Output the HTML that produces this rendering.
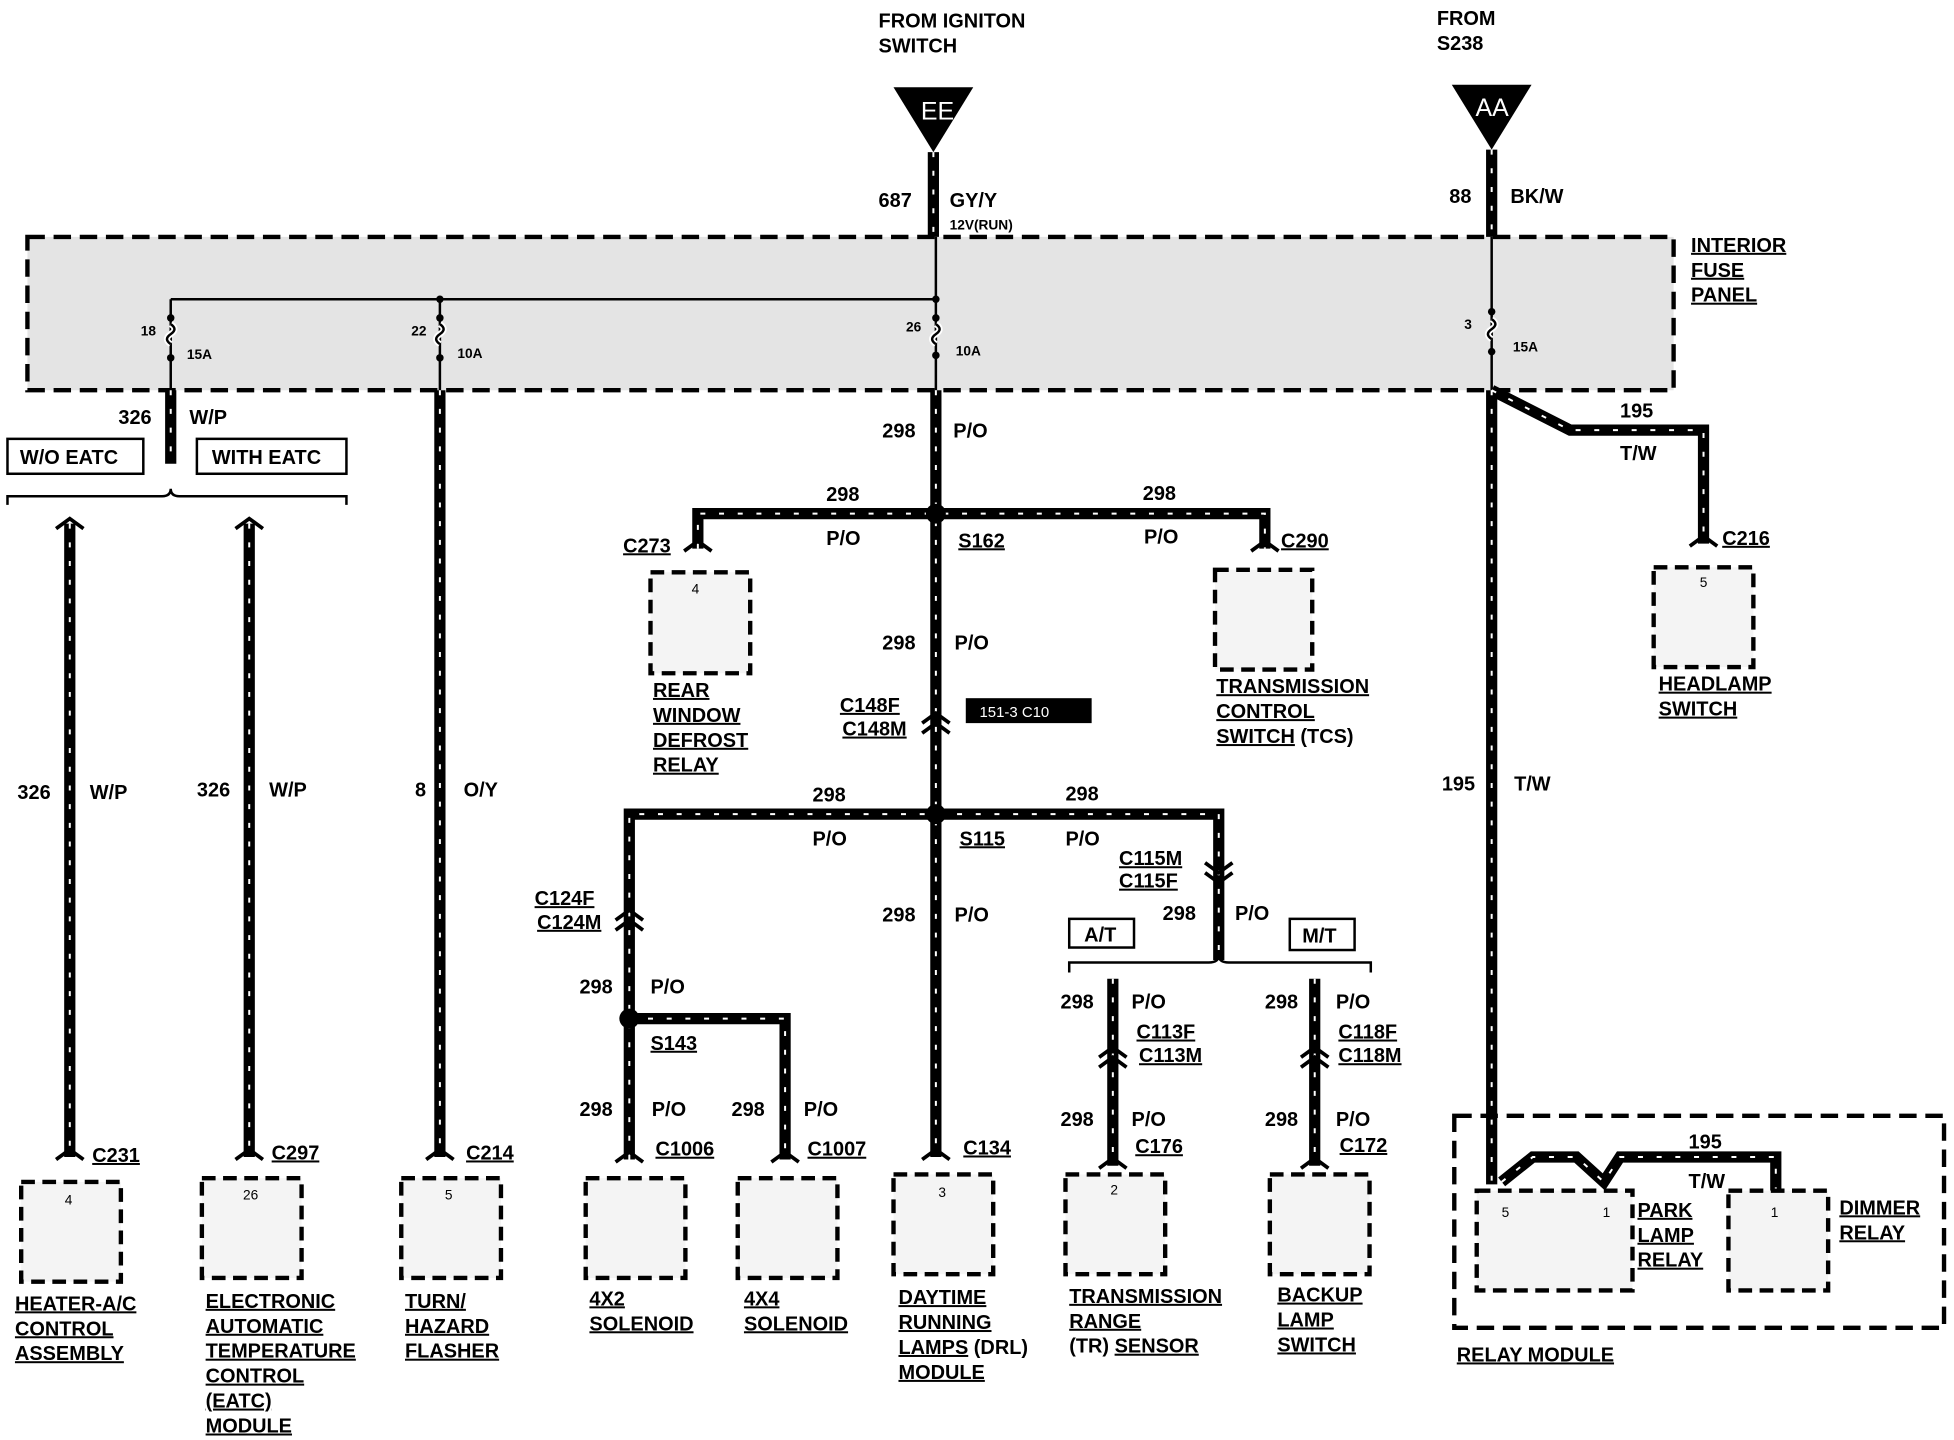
<!DOCTYPE html>
<html><head><meta charset="utf-8"><style>
html,body{margin:0;padding:0;background:#fff;}
svg{display:block;}
text{font-family:"Liberation Sans",sans-serif;font-weight:bold;font-size:16px;fill:#000;}
.u{text-decoration:underline;}
.s{font-size:11px;}
.w{stroke:#000;stroke-width:9;fill:none;stroke-linejoin:miter;}
.d{stroke:#fff;stroke-width:1.6;fill:none;stroke-dasharray:4 11;}
.t{stroke:#000;stroke-width:2;fill:none;}
.bx{stroke:#000;stroke-width:3.5;stroke-dasharray:11 6;fill:#f4f4f4;}
.sb{stroke:#000;stroke-width:2;fill:#fff;}
</style></head><body>
<svg width="1954" height="1440" viewBox="0 0 1568 1155" preserveAspectRatio="none" xmlns="http://www.w3.org/2000/svg">
<rect width="1568" height="1155" fill="#fff"/>
<!-- fuse panel -->
<rect x="22" y="190" width="1321" height="123" fill="#e4e4e4" stroke="#000" stroke-width="3.5" stroke-dasharray="14 7"/>
<text x="1357" y="202" class="u">INTERIOR</text><text x="1357" y="222" class="u">FUSE</text><text x="1357" y="242" class="u">PANEL</text>
<!-- top sources -->
<text x="705" y="22">FROM IGNITON</text><text x="705" y="42">SWITCH</text>
<text x="1153" y="20">FROM</text><text x="1153" y="40">S238</text>
<polygon points="717,70 781,70 749,122" fill="#000"/><text x="739" y="96" style="fill:#fff;font-weight:normal;font-size:20px">EE</text>
<polygon points="1165,68 1229,68 1197,120" fill="#000"/><text x="1184" y="93" style="fill:#fff;font-weight:normal;font-size:20px">AA</text>
<text x="705" y="166">687</text><text x="762" y="166">GY/Y</text><text x="762" y="184" class="s">12V(RUN)</text>
<text x="1163" y="163">88</text><text x="1212" y="163">BK/W</text>
<!-- thin fuse lines -->
<path class="t" d="M137,240 H751 M137,240 V313 M353,240 V313 M751,190 V313 M1197,190 V313"/>
<g fill="#000"><circle cx="137" cy="255" r="3"/><circle cx="137" cy="287" r="3"/><circle cx="353" cy="255" r="3"/><circle cx="353" cy="287" r="3"/><circle cx="751" cy="255" r="3"/><circle cx="751" cy="285" r="3"/><circle cx="1197" cy="250" r="3"/><circle cx="1197" cy="282" r="3"/><circle cx="751" cy="240" r="3"/><circle cx="353" cy="240" r="3"/></g>
<path class="t" d="M137,260 q6,4 0,8 q-6,4 0,8 M353,260 q6,4 0,8 q-6,4 0,8 M751,260 q6,4 0,8 q-6,4 0,8 M1197,256 q6,4 0,8 q-6,4 0,8" style="stroke:#fff;stroke-width:5"/>
<path class="t" d="M137,260 q6,4 0,8 q-6,4 0,8 M353,260 q6,4 0,8 q-6,4 0,8 M751,260 q6,4 0,8 q-6,4 0,8 M1197,256 q6,4 0,8 q-6,4 0,8"/>
<g class="s"><text x="113" y="269" class="s">18</text><text x="150" y="288" class="s">15A</text><text x="330" y="269" class="s">22</text><text x="367" y="287" class="s">10A</text><text x="727" y="266" class="s">26</text><text x="767" y="285" class="s">10A</text><text x="1175" y="264" class="s">3</text><text x="1214" y="282" class="s">15A</text></g>
<!-- thick wires -->
<path class="w" d="M749,122 V190 M1197,120 V190 M137,313 V372 M56,420 V928 M200,420 V928 M353,313 V928 M751,313 V928 M560,440 V412 H1015 V440 M505,930 V653 H978 V770 M505,817 H630 V930 M893,785 V935 M1055,785 V935 M1197,313 V950 M1197,313 L1260,345 H1367 V436 M1205,948 L1230,928 H1265 L1287,948 L1300,928 H1425 V955"/>
<path class="d" d="M749,122 V190 M1197,120 V190 M137,313 V372 M56,420 V928 M200,420 V928 M353,313 V928 M751,313 V928 M560,440 V412 H1015 V440 M505,930 V653 H978 V770 M505,817 H630 V930 M893,785 V935 M1055,785 V935 M1197,313 V950 M1197,313 L1260,345 H1367 V436 M1205,948 L1230,928 H1265 L1287,948 L1300,928 H1425 V955"/>
<g fill="#000"><circle cx="751" cy="412" r="8"/><circle cx="751" cy="653" r="8"/><circle cx="505" cy="817" r="8"/></g>
<!-- connector chevrons -->
<path class="t" style="stroke-width:3" d="M549,442 l11,-8 l11,8 M1004,442 l11,-8 l11,8 M1356,438 l11,-8 l11,8 M45,930 l11,-8 l11,8 M189,930 l11,-8 l11,8 M342,930 l11,-8 l11,8 M740,930 l11,-8 l11,8 M494,932 l11,-8 l11,8 M619,932 l11,-8 l11,8 M882,937 l11,-8 l11,8 M1044,937 l11,-8 l11,8 M45,424 l11,-8 l11,8 M189,424 l11,-8 l11,8 M740,580 l11,-8 l11,8 M740,588 l11,-8 l11,8 M494,738 l11,-8 l11,8 M494,746 l11,-8 l11,8 M967,692 l11,8 l11,-8 M967,700 l11,8 l11,-8 M882,848 l11,-8 l11,8 M882,856 l11,-8 l11,8 M1044,848 l11,-8 l11,8 M1044,856 l11,-8 l11,8"/>
<!-- EATC selection -->
<rect x="6" y="352" width="109" height="28" class="sb"/><text x="16" y="372">W/O EATC</text>
<rect x="158" y="352" width="120" height="28" class="sb"/><text x="170" y="372">WITH EATC</text>
<path class="t" d="M6,405 V398 H130 q7,0 7,-6 q0,6 7,6 H278 V405"/>
<text x="95" y="340">326</text><text x="152" y="340">W/P</text>
<text x="14" y="641">326</text><text x="72" y="641">W/P</text>
<text x="158" y="639">326</text><text x="216" y="639">W/P</text>
<text x="333" y="639">8</text><text x="372" y="639">O/Y</text>
<!-- center labels -->
<text x="708" y="351">298</text><text x="765" y="351">P/O</text>
<text x="663" y="402">298</text><text x="663" y="437">P/O</text><text x="500" y="443" class="u">C273</text><text x="769" y="439" class="u">S162</text>
<text x="917" y="401">298</text><text x="918" y="436">P/O</text><text x="1028" y="439" class="u">C290</text>
<text x="708" y="521">298</text><text x="766" y="521">P/O</text>
<text x="674" y="571" class="u">C148F</text><text x="676" y="590" class="u">C148M</text>
<rect x="775" y="560" width="101" height="20" fill="#000"/><text x="786" y="575" style="fill:#fff;font-weight:normal;font-size:12px">151-3  C10</text>
<text x="652" y="643">298</text><text x="652" y="678">P/O</text><text x="770" y="678" class="u">S115</text>
<text x="855" y="642">298</text><text x="855" y="678">P/O</text>
<text x="708" y="739">298</text><text x="766" y="739">P/O</text>
<text x="429" y="726" class="u">C124F</text><text x="431" y="745" class="u">C124M</text>
<text x="465" y="797">298</text><text x="522" y="797">P/O</text><text x="522" y="842" class="u">S143</text>
<text x="465" y="895">298</text><text x="523" y="895">P/O</text><text x="526" y="927" class="u">C1006</text>
<text x="587" y="895">298</text><text x="645" y="895">P/O</text><text x="648" y="927" class="u">C1007</text>
<text x="773" y="926" class="u">C134</text>
<text x="898" y="694" class="u">C115M</text><text x="898" y="712" class="u">C115F</text>
<text x="933" y="738">298</text><text x="991" y="738">P/O</text>
<rect x="858" y="737" width="52" height="23" class="sb"/><text x="870" y="755">A/T</text>
<rect x="1035" y="737" width="52" height="25" class="sb"/><text x="1045" y="756">M/T</text>
<path class="t" d="M858,780 V772 H970 q8,0 8,-6 q0,6 8,6 H1100 V780"/>
<text x="851" y="809">298</text><text x="908" y="809">P/O</text><text x="912" y="833" class="u">C113F</text><text x="914" y="852" class="u">C113M</text>
<text x="851" y="903">298</text><text x="908" y="903">P/O</text><text x="911" y="925" class="u">C176</text>
<text x="1015" y="809">298</text><text x="1072" y="809">P/O</text><text x="1074" y="833" class="u">C118F</text><text x="1074" y="852" class="u">C118M</text>
<text x="1015" y="903">298</text><text x="1072" y="903">P/O</text><text x="1075" y="924" class="u">C172</text>
<!-- right side -->
<text x="1300" y="335">195</text><text x="1300" y="369">T/W</text><text x="1382" y="437" class="u">C216</text>
<text x="1157" y="634">195</text><text x="1215" y="634">T/W</text>
<rect x="1327" y="455" width="80" height="80" class="bx"/><text x="1364" y="471" class="s" style="font-weight:normal">5</text>
<text x="1331" y="554" class="u">HEADLAMP</text><text x="1331" y="574" class="u">SWITCH</text>
<rect x="1167" y="895" width="393" height="170" fill="none" stroke="#000" stroke-width="3.5" stroke-dasharray="14 7"/>
<rect x="1185" y="955" width="125" height="80" class="bx"/><text x="1205" y="976" class="s" style="font-weight:normal">5</text><text x="1286" y="976" class="s" style="font-weight:normal">1</text>
<rect x="1387" y="955" width="80" height="80" class="bx"/><text x="1421" y="976" class="s" style="font-weight:normal">1</text>
<text x="1355" y="921">195</text><text x="1355" y="953">T/W</text>
<text x="1314" y="976" class="u">PARK</text><text x="1314" y="996" class="u">LAMP</text><text x="1314" y="1016" class="u">RELAY</text>
<text x="1476" y="974" class="u">DIMMER</text><text x="1476" y="994" class="u">RELAY</text>
<text x="1169" y="1092" class="u">RELAY MODULE</text>
<!-- component boxes -->
<rect x="522" y="459" width="80" height="81" class="bx"/><text x="555" y="476" class="s" style="font-weight:normal">4</text>
<text x="524" y="559" class="u">REAR</text><text x="524" y="579" class="u">WINDOW</text><text x="524" y="599" class="u">DEFROST</text><text x="524" y="619" class="u">RELAY</text>
<rect x="975" y="457" width="78" height="80" class="bx"/>
<text x="976" y="556" class="u">TRANSMISSION</text><text x="976" y="576" class="u">CONTROL</text><text x="976" y="596"><tspan class="u">SWITCH</tspan> (TCS)</text>
<rect x="17" y="948" width="80" height="80" class="bx"/><text x="52" y="966" class="s" style="font-weight:normal">4</text>
<text x="12" y="1051" class="u">HEATER-A/C</text><text x="12" y="1071" class="u">CONTROL</text><text x="12" y="1091" class="u">ASSEMBLY</text>
<rect x="162" y="945" width="80" height="80" class="bx"/><text x="195" y="962" class="s" style="font-weight:normal">26</text>
<text x="165" y="1049" class="u">ELECTRONIC</text><text x="165" y="1069" class="u">AUTOMATIC</text><text x="165" y="1089" class="u">TEMPERATURE</text><text x="165" y="1109" class="u">CONTROL</text><text x="165" y="1129" class="u">(EATC)</text><text x="165" y="1149" class="u">MODULE</text>
<rect x="322" y="945" width="80" height="80" class="bx"/><text x="357" y="962" class="s" style="font-weight:normal">5</text>
<text x="325" y="1049" class="u">TURN/</text><text x="325" y="1069" class="u">HAZARD</text><text x="325" y="1089" class="u">FLASHER</text>
<rect x="470" y="945" width="80" height="80" class="bx"/><text x="473" y="1047" class="u">4X2</text><text x="473" y="1067" class="u">SOLENOID</text>
<rect x="592" y="945" width="80" height="80" class="bx"/><text x="597" y="1047" class="u">4X4</text><text x="597" y="1067" class="u">SOLENOID</text>
<rect x="717" y="942" width="80" height="80" class="bx"/><text x="753" y="960" class="s" style="font-weight:normal">3</text>
<text x="721" y="1046" class="u">DAYTIME</text><text x="721" y="1066" class="u">RUNNING</text><text x="721" y="1086"><tspan class="u">LAMPS</tspan> (DRL)</text><text x="721" y="1106" class="u">MODULE</text>
<rect x="855" y="942" width="80" height="80" class="bx"/><text x="891" y="958" class="s" style="font-weight:normal">2</text>
<text x="858" y="1045" class="u">TRANSMISSION</text><text x="858" y="1065" class="u">RANGE</text><text x="858" y="1085">(TR) <tspan class="u">SENSOR</tspan></text>
<rect x="1019" y="942" width="80" height="80" class="bx"/>
<text x="1025" y="1044" class="u">BACKUP</text><text x="1025" y="1064" class="u">LAMP</text><text x="1025" y="1084" class="u">SWITCH</text>
<text x="74" y="932" class="u">C231</text><text x="218" y="930" class="u">C297</text><text x="374" y="930" class="u">C214</text>
</svg>
</body></html>
